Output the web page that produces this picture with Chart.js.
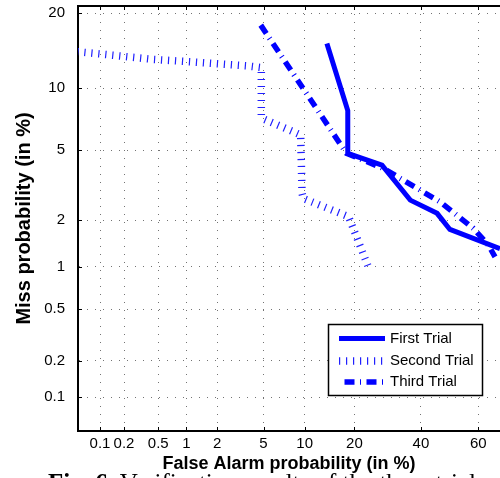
<!DOCTYPE html>
<html>
<head>
<meta charset="utf-8">
<script src="https://cdn.jsdelivr.net/npm/chart.js@4/dist/chart.umd.min.js"></script>
<style>
  html, body { margin: 0; padding: 0; background: #fff; overflow: hidden; }
  #wrap { position: relative; width: 500px; height: 478px; overflow: hidden; }
  canvas { display: block; }
  #caption { position: absolute; left: 48px; top: 469.5px; font: 25px "Liberation Serif", "Times New Roman", serif; line-height: 25px; white-space: nowrap; color: #000; }
  #caption b { font-weight: bold; }
</style>
</head>
<body>
<div id="wrap">
  <canvas id="c" width="500" height="478"></canvas>
  <div id="caption"><b>Fig. 6.</b> Verification results of the three trials</div>
</div>
<script>
// ---- data (percent) ----
const seriesNames = ["First Trial", "Second Trial", "Third Trial"];

const firstFA   = [13.9, 18.4, 18.4, 27.5, 36.4, 45.6, 50.1, 67.2, 70];
const firstMiss = [15.4, 7.9, 4.82, 4.17, 2.64, 2.2, 1.75, 1.32, 1.28];

const secondFA   = [0.05, 0.1, 0.44, 1.1, 3.7, 4.8, 4.8, 5.0, 9.4, 9.6, 9.8, 18.6, 23.8];
const secondMiss = [14.3, 14.0, 13.3, 13.0, 12.5, 12.3, 7.5, 7.2, 6.0, 2.9, 2.7, 2.1, 0.97];

const thirdFA   = [4.75, 18.1, 27.9, 46.6, 58.3, 63.4, 65.6];
const thirdMiss = [18.1, 4.82, 4.0, 2.58, 1.78, 1.39, 1.165];

const xTickValues = [0.1, 0.2, 0.5, 1, 2, 5, 10, 20, 40, 60];
const xTickLabels = ["0.1", "0.2", "0.5", "1", "2", "5", "10", "20", "40", "60"];
const yTickValues = [0.1, 0.2, 0.5, 1, 2, 5, 10, 20];
const yTickLabels = ["0.1", "0.2", "0.5", "1", "2", "5", "10", "20"];

const xRange = [0.051, 67.2];
const yRange = [0.0503, 21.2];

// ---- probit (inverse normal CDF, Acklam) ----
function probit(p) {
  const a=[-3.969683028665376e+01,2.209460984245205e+02,-2.759285104469687e+02,1.383577518672690e+02,-3.066479806614716e+01,2.506628277459239e+00];
  const b=[-5.447609879822406e+01,1.615858368580409e+02,-1.556989798598866e+02,6.680131188771972e+01,-1.328068155288572e+01];
  const c=[-7.784894002430293e-03,-3.223964580411365e-01,-2.400758277161838e+00,-2.549732539343734e+00,4.374664141464968e+00,2.938163982698783e+00];
  const d=[7.784695709041462e-03,3.224671290700398e-01,2.445134137142996e+00,3.754408661907416e+00];
  const pl = 0.02425, ph = 1 - pl; let q, r;
  if (p < pl) { q = Math.sqrt(-2*Math.log(p)); return (((((c[0]*q+c[1])*q+c[2])*q+c[3])*q+c[4])*q+c[5])/((((d[0]*q+d[1])*q+d[2])*q+d[3])*q+1); }
  if (p <= ph) { q = p - 0.5; r = q*q; return (((((a[0]*r+a[1])*r+a[2])*r+a[3])*r+a[4])*r+a[5])*q/(((((b[0]*r+b[1])*r+b[2])*r+b[3])*r+b[4])*r+1); }
  q = Math.sqrt(-2*Math.log(1-p)); return -(((((c[0]*q+c[1])*q+c[2])*q+c[3])*q+c[4])*q+c[5])/((((d[0]*q+d[1])*q+d[2])*q+d[3])*q+1);
}
const pr = v => probit(v / 100);
const toPts = (xs, ys) => xs.map((x, i) => ({ x: pr(x), y: pr(ys[i]) }));

const FONT = '"Liberation Sans", Arial, Helvetica, sans-serif';
const BLUE = '#0000ff';

const styles = [
  { borderWidth: 5, borderDash: [], color: BLUE },
  { borderWidth: 7.5, borderDash: [1.2, 5.8], color: '#2020ff' },
  { borderWidth: 5.5, borderDash: [10, 5.5, 1, 5.5], color: BLUE }
];

const datasets = [
  toPts(firstFA, firstMiss),
  toPts(secondFA, secondMiss),
  toPts(thirdFA, thirdMiss)
].map((pts, i) => ({
  label: seriesNames[i],
  data: pts,
  showLine: true,
  borderColor: styles[i].color,
  backgroundColor: styles[i].color,
  borderWidth: styles[i].borderWidth,
  borderDash: styles[i].borderDash,
  borderCapStyle: 'butt',
  borderJoinStyle: 'miter',
  pointRadius: 0,
  tension: 0,
  clip: 0
}));

// frame, inward ticks, and legend
const framePlugin = {
  id: 'frame',
  afterDatasetsDraw(chart) {
    const { ctx, chartArea: ca, scales } = chart;
    ctx.save();
    // top border
    ctx.strokeStyle = '#000'; ctx.lineWidth = 2; ctx.setLineDash([]);
    ctx.beginPath(); ctx.moveTo(ca.left - 1, ca.top); ctx.lineTo(ca.right, ca.top); ctx.stroke();
    // inward tick marks
    ctx.lineWidth = 1;
    ctx.beginPath();
    scales.x.ticks.forEach(t => {
      const px = Math.round(scales.x.getPixelForValue(t.value)) + 0.5;
      ctx.moveTo(px, ca.bottom); ctx.lineTo(px, ca.bottom - 4);
      ctx.moveTo(px, ca.top); ctx.lineTo(px, ca.top + 4);
    });
    scales.y.ticks.forEach(t => {
      const py = Math.round(scales.y.getPixelForValue(t.value)) + 0.5;
      ctx.moveTo(ca.left, py); ctx.lineTo(ca.left + 4, py);
    });
    ctx.stroke();

    // legend
    const bx = 328.5, by = 324.5, bw = 154, bh = 71;
    ctx.fillStyle = '#fff';
    ctx.fillRect(bx, by, bw, bh);
    ctx.strokeStyle = '#000'; ctx.lineWidth = 1.5;
    ctx.strokeRect(bx, by, bw, bh);
    const rows = [338.5, 361, 382];
    const offsets = [0, 0, 16.5];
    chart.data.datasets.forEach((ds, i) => {
      ctx.save();
      ctx.strokeStyle = ds.borderColor;
      ctx.lineWidth = ds.borderWidth;
      ctx.lineCap = 'butt';
      ctx.setLineDash(ds.borderDash);
      ctx.lineDashOffset = offsets[i];
      ctx.beginPath();
      ctx.moveTo(339, rows[i]); ctx.lineTo(385, rows[i]);
      ctx.stroke();
      ctx.restore();
      ctx.fillStyle = '#000';
      ctx.font = '15px ' + FONT;
      ctx.textBaseline = 'middle';
      ctx.textAlign = 'left';
      ctx.fillText(ds.label, 390, rows[i]);
    });
    ctx.restore();
  }
};

new Chart(document.getElementById('c'), {
  type: 'scatter',
  data: { datasets },
  plugins: [framePlugin],
  options: {
    responsive: false,
    animation: false,
    devicePixelRatio: 1,
    layout: { padding: { top: 6, right: 0, bottom: 0, left: 0 } },
    plugins: { legend: { display: false }, tooltip: { enabled: false } },
    scales: {
      x: {
        type: 'linear',
        position: 'bottom',
        min: pr(xRange[0]),
        max: pr(xRange[1]),
        afterBuildTicks: s => { s.ticks = xTickValues.map(v => ({ value: pr(v) })); },
        afterFit: s => { s.height = 47; s.paddingLeft = 0; s.paddingRight = 0; },
        ticks: {
          autoSkip: false, maxRotation: 0, minRotation: 0, padding: 4,
          color: '#000',
          font: { family: FONT, size: 15 },
          callback: (v, i) => xTickLabels[i]
        },
        grid: { drawTicks: false, color: 'rgba(0,0,0,0.55)', lineWidth: 1 },
        border: { display: true, color: '#000', width: 2, dash: [1, 7] },
        title: {
          display: true, text: 'False Alarm probability (in %)', color: '#000',
          font: { family: FONT, size: 18, weight: 'bold' },
          padding: { top: 0, bottom: 3 }
        }
      },
      y: {
        type: 'linear',
        position: 'left',
        min: pr(yRange[0]),
        max: pr(yRange[1]),
        afterBuildTicks: s => { s.ticks = yTickValues.map(v => ({ value: pr(v) })); },
        afterFit: s => { s.width = 78; s.paddingTop = 0; s.paddingBottom = 0; },
        ticks: {
          autoSkip: false, padding: 13,
          color: '#000',
          font: { family: FONT, size: 15 },
          callback: (v, i) => yTickLabels[i]
        },
        grid: { drawTicks: false, color: 'rgba(0,0,0,0.55)', lineWidth: 1 },
        border: { display: true, color: '#000', width: 2, dash: [1, 7] },
        title: {
          display: true, text: 'Miss probability (in %)', color: '#000',
          font: { family: FONT, size: 20, weight: 'bold' },
          padding: { top: 12, bottom: 0 }
        }
      }
    }
  }
});
</script>
</body>
</html>
